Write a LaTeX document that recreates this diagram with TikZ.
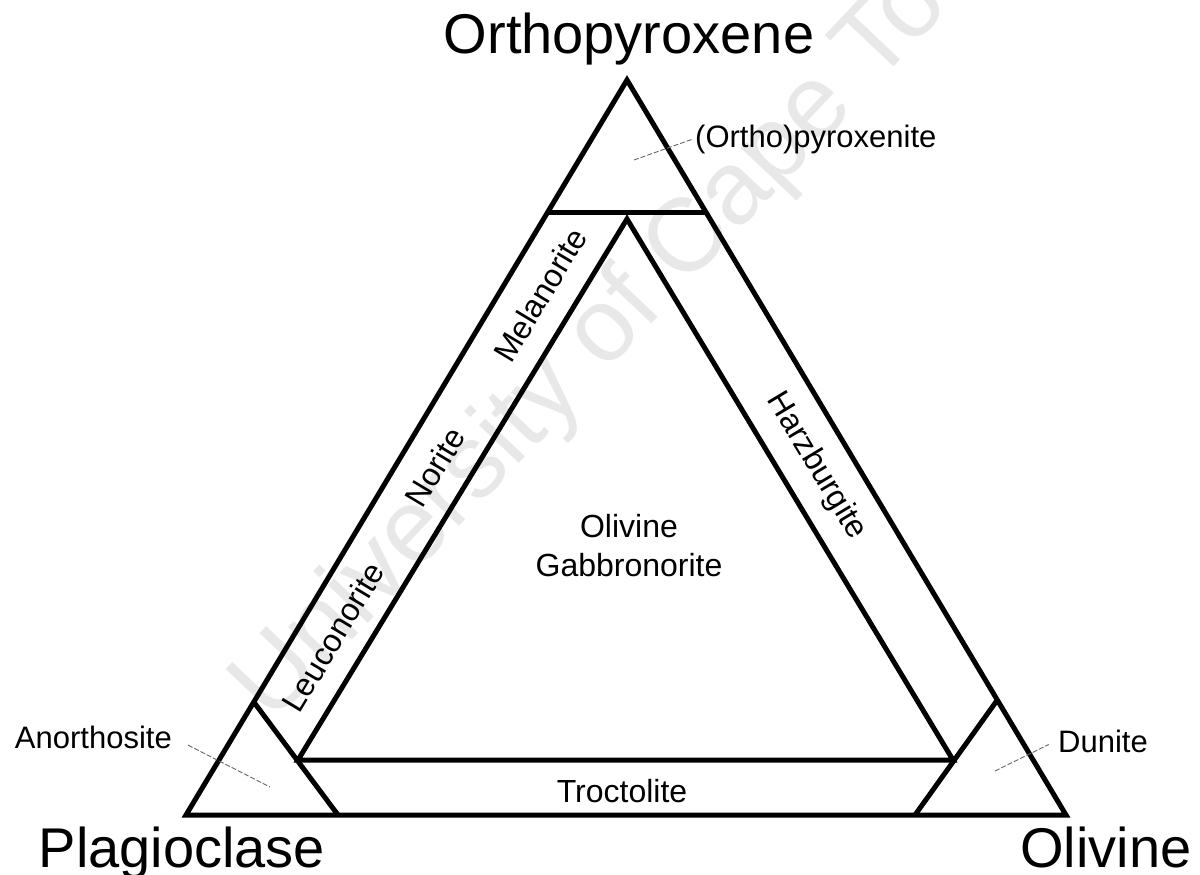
\documentclass[tikz,border=0pt]{standalone}
\usepackage{fontspec}
\setmainfont{Liberation Sans}
\usetikzlibrary{calc}
\begin{document}
\begin{tikzpicture}[x=1pt,y=-1pt,
  edge/.style={line width=5pt, line join=miter},
  leader/.style={black!60, line width=0.9pt, dash pattern=on 5pt off 2pt},
  big/.style={font=\fontsize{56}{60}\selectfont, inner sep=0pt},
  lab/.style={font=\fontsize{32}{39}\selectfont, inner sep=0pt},
  side/.style={font=\fontsize{31}{37}\selectfont, inner sep=0pt},
  wmark/.style={text=black!9, font=\fontsize{104}{110}\selectfont, inner sep=0pt}
  ]
\useasboundingbox (0,0) rectangle (1200,875);

% watermark
\node[wmark, rotate=46.6, anchor=base west] (wm) at (272,725) {University of Cape Town};

% corners
\coordinate (A) at (627,80);
\coordinate (B) at (186,815);
\coordinate (C) at (1066,815);
% inner triangle
\coordinate (I) at (627,219);
\coordinate (J) at (298,760);
\coordinate (K) at (953,760);
% dividers
\coordinate (T1) at (547.8,212);
\coordinate (T2) at (705.8,212);
\coordinate (L1) at (253.8,702);
\coordinate (L2) at (338,815);
\coordinate (R1) at (997.3,700);
\coordinate (R2) at (915,815);

\draw[edge] (A) -- (B) -- (C) -- cycle;
\draw[edge] (I) -- (J) -- (K) -- cycle;
\draw[edge] (T1) -- (T2);
\draw[edge] (L1) -- (L2);
\draw[edge] (R1) -- (R2);

% apex labels
\node[big, anchor=base] (opx) at (629,54) {Orthopyroxene};
\node[big, anchor=base] (plag) at (182,867) {Plagioclase};
\node[big, anchor=base] (oliv) at (1106,867) {Olivine};

% field labels
\node[side, anchor=base west, inner sep=2pt] (opxite) at (693,147) {(Ortho)pyroxenite};
\node[side, anchor=base east] (anor) at (172,748) {Anorthosite};
\node[side, anchor=base west, inner sep=2pt] (dunite) at (1056,752) {Dunite};
\node[lab, anchor=base] (troc) at (622,802) {Troctolite};
\node[lab, anchor=north, align=center] (olgab) at (629,514) {Olivine\\Gabbronorite};
\node[lab, rotate=59] (mela) at (540,295) {Melanorite};
\node[lab, rotate=59] (norite) at (435,467) {Norite};
\node[lab, rotate=59] (leuco) at (333,637) {Leuconorite};
\node[lab, rotate=-59] (harz) at (816,466) {Harzburgite};

% leaders
\coordinate (pxpt) at (634,160);
\coordinate (anpt) at (270,787);
\coordinate (dupt) at (995,771);
\draw[leader] (pxpt) -- (opxite.west);
\draw[leader, shorten <=18pt] (anor.east) -- (anpt);
\draw[leader, shorten >=8pt] (dupt) -- (dunite.west);
\end{tikzpicture}
\end{document}
